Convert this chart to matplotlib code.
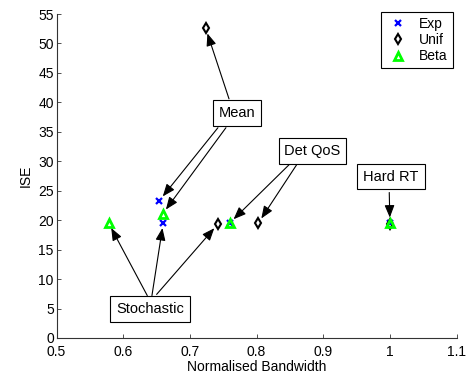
import matplotlib
matplotlib.use("Agg")
import matplotlib.pyplot as plt

plt.rcParams['font.family'] = ['Liberation Sans', 'DejaVu Sans']
plt.rcParams['font.size'] = 10

# points in order: Stochastic, Mean, Det QoS, Hard RT
exp_bw = [0.660, 0.654, 0.7595, 1.0]
exp_ise = [19.6, 23.3, 19.5, 19.5]
unif_bw = [0.742, 0.7236, 0.8025, 1.0]
unif_ise = [19.35, 52.6, 19.5, 19.3]
beta_bw = [0.578, 0.659, 0.7595, 1.0]
beta_ise = [19.5, 21.05, 19.5, 19.5]

series_names = ['Exp', 'Unif', 'Beta']
xticks = [0.5, 0.6, 0.7, 0.8, 0.9, 1.0, 1.1]
xticklabels = ['0.5', '0.6', '0.7', '0.8', '0.9', '1', '1.1']
yticks = list(range(0, 56, 5))

# label text, label position, arrows as (start, target)
annotations = [
    ('Stochastic', (0.640, 4.9), [((0.636, 7.2), (beta_bw[0], beta_ise[0])),
                                  ((0.643, 7.2), (exp_bw[0], exp_ise[0])),
                                  ((0.650, 7.4), (unif_bw[0], unif_ise[0]))]),
    ('Mean', (0.7706, 38.2), [((0.7586, 40.6), (unif_bw[1], unif_ise[1])),
                              ((0.742, 35.7), (exp_bw[1], exp_ise[1])),
                              ((0.754, 35.7), (beta_bw[1], beta_ise[1]))]),
    ('Det QoS', (0.8838, 31.8), [((0.8486, 29.4), (beta_bw[2], beta_ise[2])),
                                 ((0.860, 29.4), (unif_bw[2], unif_ise[2]))]),
    ('Hard RT', (1.0016, 27.4), [((0.999, 24.7), (beta_bw[3], beta_ise[3]))]),
]

fig = plt.figure(figsize=(4.71, 3.79), dpi=100)
ax = fig.add_axes([0.1202, 0.1082, 0.9694 - 0.1202, 0.963 - 0.1082])

ax.plot(exp_bw, exp_ise, linestyle='none', marker='x', color='blue',
        markersize=4, mew=1.6, label=series_names[0])
ax.plot(unif_bw, unif_ise, linestyle='none', marker='d', color='black',
        mfc='none', markersize=5.5, mew=1.5, label=series_names[1])
ax.plot(beta_bw, beta_ise, linestyle='none', marker='^', color=(0, 1, 0),
        mfc='none', markersize=6, mew=2, label=series_names[2])

for text, pos, arrows in annotations:
    ax.text(pos[0], pos[1], text, ha='center', va='center', zorder=5, fontsize=10.5,
            bbox=dict(boxstyle='square,pad=0.4', fc='white', ec='black', lw=0.8))
    for start, target in arrows:
        ax.annotate('', xy=target, xytext=start,
                    arrowprops=dict(arrowstyle='-|>,head_length=0.5,head_width=0.2',
                                    color='black', lw=0.8, shrinkA=0, shrinkB=4,
                                    mutation_scale=15))

ax.set_xlim(0.5, 1.1)
ax.set_ylim(0, 55)
ax.set_xticks(xticks)
ax.set_xticklabels(xticklabels)
ax.set_yticks(yticks)
ax.spines['top'].set_visible(False)
ax.spines['right'].set_visible(False)
for s in ['left', 'bottom']:
    ax.spines[s].set_color('#333333')
    ax.spines[s].set_linewidth(0.8)
ax.tick_params(direction='in', length=3, width=0.6, colors='#333333', labelcolor='black')
ax.tick_params(axis='x', pad=5)
ax.tick_params(axis='y', pad=2)

ax.set_xlabel('Normalised Bandwidth', labelpad=1)
ax.set_ylabel('ISE', labelpad=4)

leg = ax.legend(loc='upper right', bbox_to_anchor=(0.99, 1.005), borderaxespad=0,
                fancybox=False, framealpha=1, edgecolor='black', handlelength=1.8,
                handletextpad=0.6, labelspacing=0.15, borderpad=0.35)
leg.get_frame().set_linewidth(0.8)

fig.savefig('out.png', dpi=100)
